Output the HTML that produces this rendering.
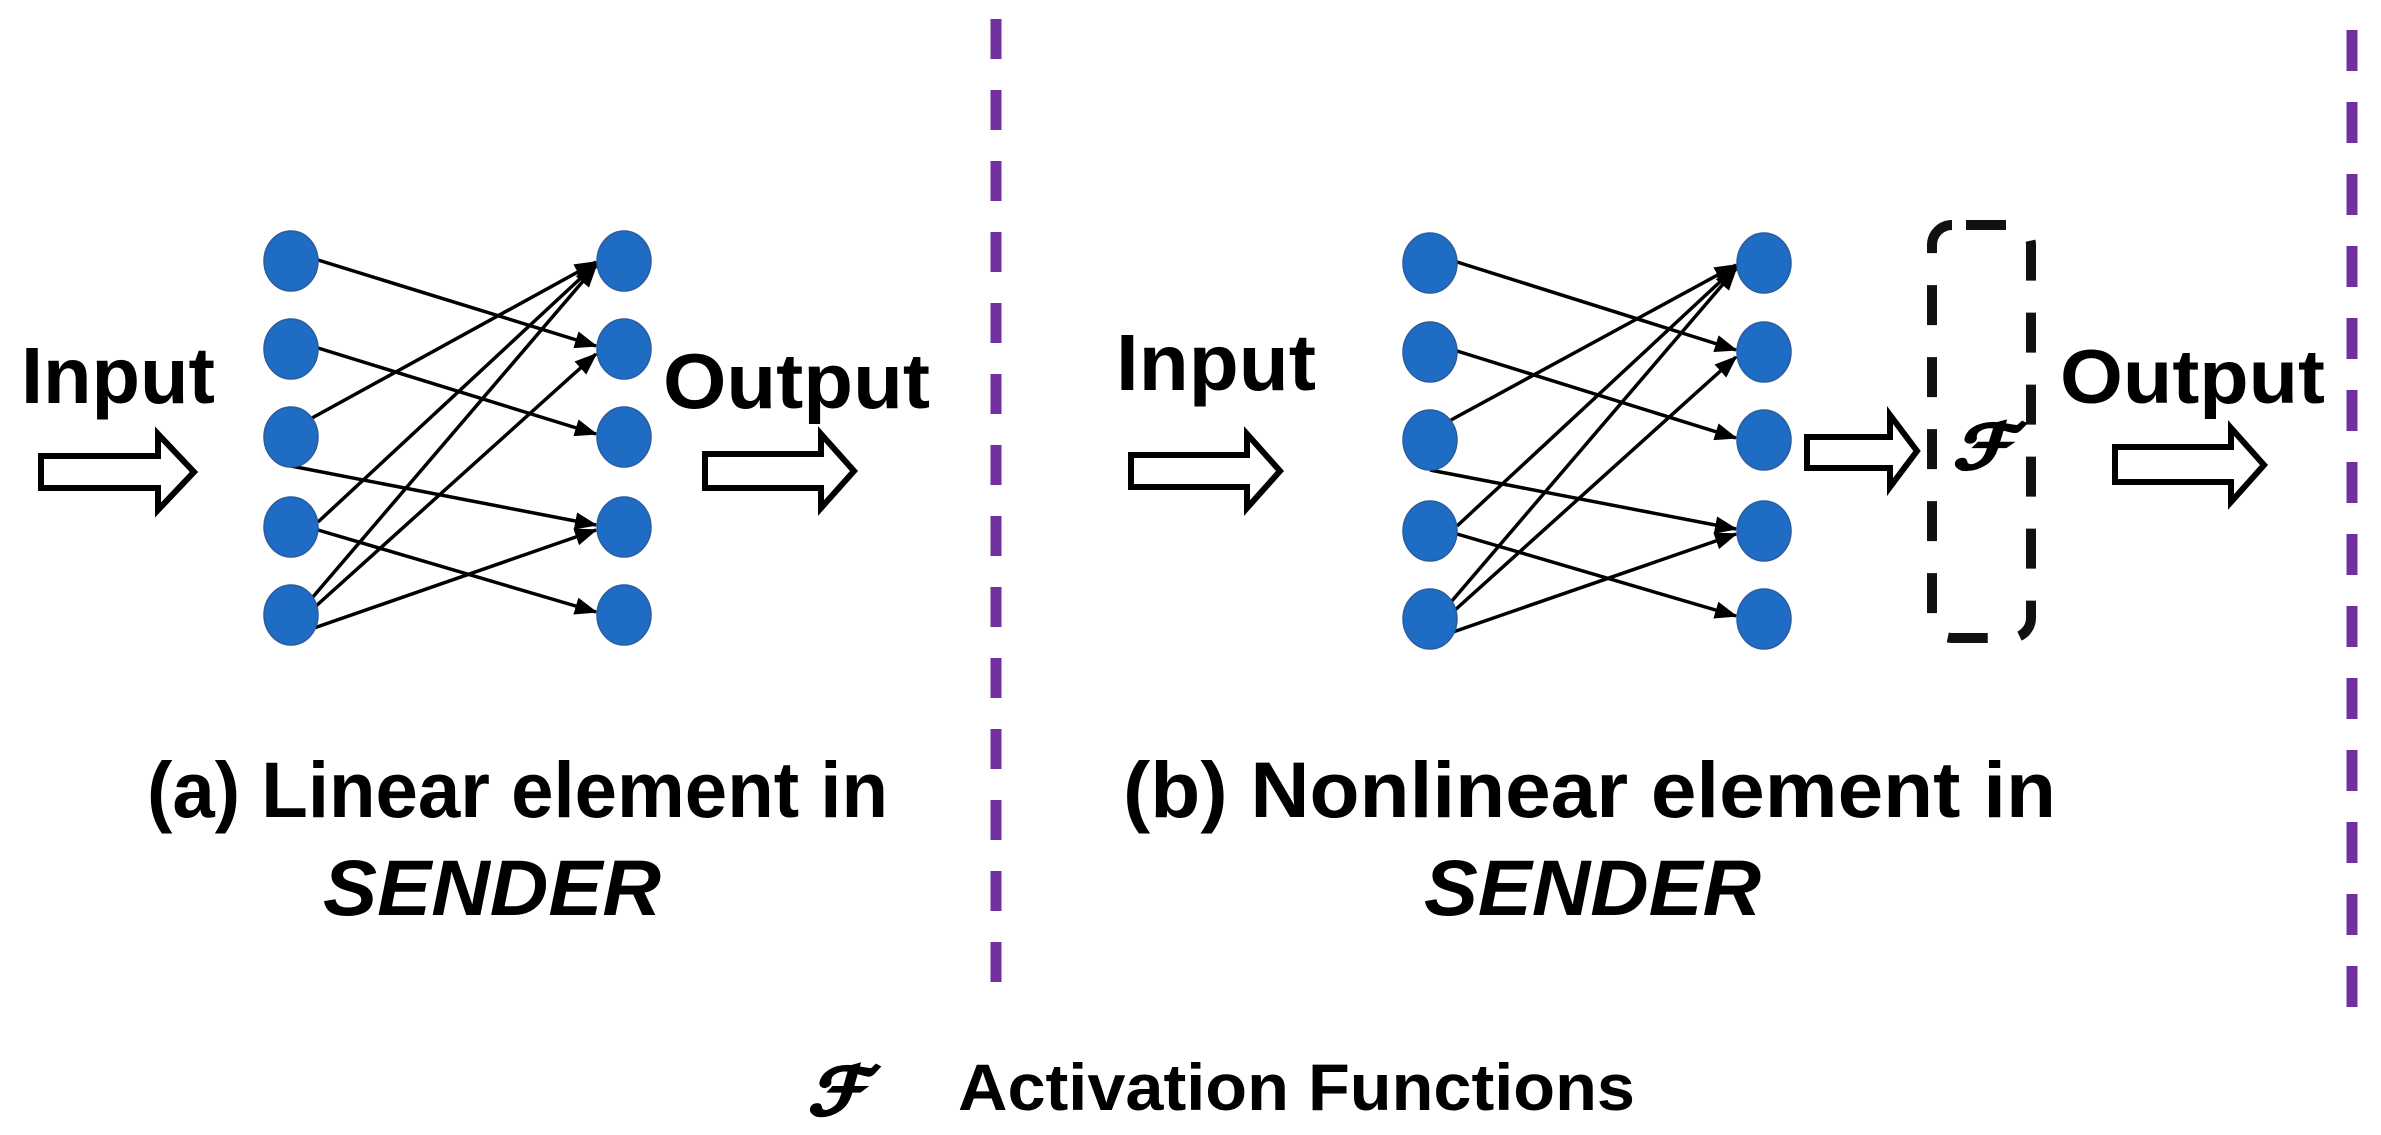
<!DOCTYPE html>
<html><head><meta charset="utf-8"><style>html,body{margin:0;padding:0;background:#fff}svg{display:block}</style></head>
<body>
<svg width="2381" height="1135" viewBox="0 0 2381 1135" xmlns="http://www.w3.org/2000/svg">
<defs>
<marker id="ah" markerWidth="6.5" markerHeight="5" refX="6" refY="2.5" orient="auto" markerUnits="strokeWidth">
<path d="M0,0 L6.5,2.5 L0,5 z" fill="#000"/>
</marker>
</defs>
<line x1="996" y1="19" x2="996" y2="1000" stroke="#7030A0" stroke-width="11" stroke-dasharray="40 31"/>
<line x1="2352" y1="30" x2="2352" y2="1012" stroke="#7030A0" stroke-width="11" stroke-dasharray="41 31"/>

<g fill="#fff" stroke="#000" stroke-width="6" stroke-linejoin="miter">
<polygon points="41,456 158,456 158,434 194,472 158,510 158,488 41,488"/>
<polygon points="705,454 821,454 821,434 854,471 821,508 821,488 705,488"/>
<polygon points="1131,455 1247,455 1247,434 1280,471 1247,508 1247,487 1131,487"/>
<polygon points="1807,437 1890,437 1890,415 1917,451 1890,487 1890,468 1807,468"/>
<polygon points="2115,447 2231,447 2231,428 2264,465 2231,502 2231,482 2115,482"/>
</g>

<g stroke="#000" stroke-width="3.5" fill="none" marker-end="url(#ah)">
<line x1="318" y1="260" x2="596" y2="346"/>
<line x1="318" y1="348" x2="596" y2="434"/>
<line x1="312" y1="418" x2="596" y2="262"/>
<line x1="291" y1="466" x2="596" y2="525"/>
<line x1="318" y1="522" x2="596" y2="264"/>
<line x1="318" y1="530" x2="596" y2="612"/>
<line x1="312" y1="598" x2="596" y2="266"/>
<line x1="316" y1="606" x2="596" y2="354"/>
<line x1="314" y1="628" x2="596" y2="530"/>

<line x1="1457" y1="262" x2="1736" y2="350"/>
<line x1="1457" y1="351" x2="1736" y2="438"/>
<line x1="1451" y1="420" x2="1736" y2="265"/>
<line x1="1430" y1="470" x2="1736" y2="529"/>
<line x1="1457" y1="526" x2="1736" y2="267"/>
<line x1="1457" y1="534" x2="1736" y2="616"/>
<line x1="1451" y1="602" x2="1736" y2="269"/>
<line x1="1455" y1="610" x2="1736" y2="357"/>
<line x1="1453" y1="632" x2="1736" y2="534"/>
</g>

<g fill="#1F6CC4" stroke="#2A5C9E" stroke-width="1.5">
<ellipse cx="291" cy="261" rx="27" ry="30"/>
<ellipse cx="291" cy="349" rx="27" ry="30"/>
<ellipse cx="291" cy="437" rx="27" ry="30"/>
<ellipse cx="291" cy="527" rx="27" ry="30"/>
<ellipse cx="291" cy="615" rx="27" ry="30"/>
<ellipse cx="624" cy="261" rx="27" ry="30"/>
<ellipse cx="624" cy="349" rx="27" ry="30"/>
<ellipse cx="624" cy="437" rx="27" ry="30"/>
<ellipse cx="624" cy="527" rx="27" ry="30"/>
<ellipse cx="624" cy="615" rx="27" ry="30"/>
<ellipse cx="1430" cy="263" rx="27" ry="30"/>
<ellipse cx="1430" cy="352" rx="27" ry="30"/>
<ellipse cx="1430" cy="440" rx="27" ry="30"/>
<ellipse cx="1430" cy="531" rx="27" ry="30"/>
<ellipse cx="1430" cy="619" rx="27" ry="30"/>
<ellipse cx="1764" cy="263" rx="27" ry="30"/>
<ellipse cx="1764" cy="352" rx="27" ry="30"/>
<ellipse cx="1764" cy="440" rx="27" ry="30"/>
<ellipse cx="1764" cy="531" rx="27" ry="30"/>
<ellipse cx="1764" cy="619" rx="27" ry="30"/>
</g>

<rect x="1932" y="225" width="99" height="413" rx="20" fill="none" stroke="#111" stroke-width="10" stroke-dasharray="40 32" stroke-dashoffset="-14"/>

<g font-family="Liberation Sans, Arial, sans-serif" font-weight="bold" fill="#000">
<text x="21" y="403" font-size="80" textLength="194" lengthAdjust="spacingAndGlyphs">Input</text>
<text x="663" y="408" font-size="78" textLength="267" lengthAdjust="spacingAndGlyphs">Output</text>
<text x="1116" y="390" font-size="80" textLength="200" lengthAdjust="spacingAndGlyphs">Input</text>
<text x="2060" y="403" font-size="76" textLength="265" lengthAdjust="spacingAndGlyphs">Output</text>
<text x="147" y="817" font-size="79" textLength="741" lengthAdjust="spacingAndGlyphs">(a) Linear element in</text>
<text x="323" y="915" font-size="79" font-style="italic" textLength="338" lengthAdjust="spacingAndGlyphs">SENDER</text>
<text x="1123" y="817" font-size="79" textLength="933" lengthAdjust="spacingAndGlyphs">(b) Nonlinear element in</text>
<text x="1424" y="915" font-size="79" font-style="italic" textLength="337" lengthAdjust="spacingAndGlyphs">SENDER</text>
<text x="958" y="1110" font-size="66" textLength="677" lengthAdjust="spacingAndGlyphs">Activation Functions</text>
</g>
<g font-family="DejaVu Serif, Liberation Serif, serif" font-style="italic" font-weight="bold" fill="#000" stroke="#000" stroke-width="2.5">
<text x="1953" y="468" font-size="60" textLength="59" lengthAdjust="spacingAndGlyphs">ℱ</text>
<text x="808" y="1114" font-size="64" textLength="58" lengthAdjust="spacingAndGlyphs">ℱ</text>
</g>
</svg>
</body></html>
